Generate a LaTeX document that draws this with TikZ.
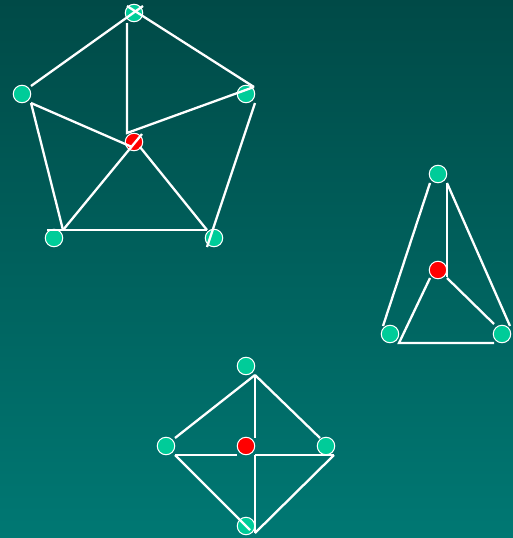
\documentclass[tikz,border=0pt]{standalone}
\definecolor{vgreen}{RGB}{0,204,153}
\definecolor{bgtop}{RGB}{0,74,71}
\definecolor{bgbot}{RGB}{0,120,115}
\begin{document}
\begin{tikzpicture}[x=1pt,y=-1pt,
  vtx/.style={circle,draw=white,line width=1pt,fill=vgreen,minimum size=17.5pt,inner sep=0pt},
  hub/.style={vtx,fill=red},
  edge/.style={draw=white,line width=2.3pt}]
\shade[top color=bgtop,bottom color=bgbot] (0,0) rectangle (513,538);
\useasboundingbox (0,0) rectangle (513,538);
% ---- pentagon wheel ----
\node[vtx] (P1) at (134,13) {};
\node[vtx] (P2) at (246,94) {};
\node[vtx] (P3) at (214,238) {};
\node[vtx] (P4) at (54,238) {};
\node[vtx] (P5) at (22,94) {};
\node[hub] (Pc) at (134,142) {};
\coordinate (pa) at (143,6);
\coordinate (pb) at (127,6);
\coordinate (pl1) at (31,86);
\coordinate (pl2) at (31,103);
\coordinate (pr1) at (254,87);
\coordinate (pr2) at (255,103);
\coordinate (pv1) at (127,23);
\coordinate (pv2) at (127,133);
\coordinate (pcl) at (132,147);
\coordinate (pcu) at (142,134);
\coordinate (pcr) at (140,147);
\coordinate (pbl) at (63,230);
\coordinate (pbl0) at (47,230);
\coordinate (pbr) at (207,230);
\coordinate (pbr2) at (207,247);
\draw[edge] (pa) -- (pl1);
\draw[edge] (pb) -- (pr1);
\draw[edge] (pv1) -- (pv2) -- (pr1);
\draw[edge] (pl2) -- (pcl);
\draw[edge] (pl2) -- (pbl);
\draw[edge] (pbl) -- (pcu);
\draw[edge] (pcr) -- (pbr);
\draw[edge] (pbl0) -- (pbr);
\draw[edge] (pr2) -- (pbr2);
% ---- triangle wheel ----
\node[vtx] (T1) at (438,174) {};
\node[hub] (Tc) at (438,270) {};
\node[vtx] (T2) at (390,334) {};
\node[vtx] (T3) at (502,334) {};
\coordinate (ta) at (430,183);
\coordinate (tb) at (447,183);
\coordinate (tc1) at (447,277);
\coordinate (tc2) at (430,278);
\coordinate (tc3) at (447,278);
\coordinate (tl) at (383,326);
\coordinate (tr) at (510,326);
\coordinate (tbl) at (399,343);
\coordinate (tbr) at (494,343);
\coordinate (tbr2) at (494,324);
\draw[edge] (ta) -- (tl);
\draw[edge] (tb) -- (tc1);
\draw[edge] (tb) -- (tr);
\draw[edge] (tc2) -- (tbl) -- (tbr);
\draw[edge] (tc3) -- (tbr2);
% ---- square wheel ----
\node[vtx] (S1) at (246,366) {};
\node[vtx] (S2) at (326,446) {};
\node[vtx] (S3) at (246,526) {};
\node[vtx] (S4) at (166,446) {};
\node[hub] (Sc) at (246,446) {};
\coordinate (st) at (255,375);
\coordinate (sl1) at (175,438);
\coordinate (sr1) at (320,438);
\coordinate (sv1) at (255,438);
\coordinate (sv2) at (255,455);
\coordinate (sb) at (255,533);
\coordinate (sl2) at (175,455);
\coordinate (sh) at (237,455);
\coordinate (sr2) at (334,455);
\coordinate (sb2) at (250,530);
\draw[edge] (st) -- (sl1);
\draw[edge] (st) -- (sr1);
\draw[edge] (st) -- (sv1);
\draw[edge] (sv2) -- (sb);
\draw[edge] (sl2) -- (sh);
\draw[edge] (sv2) -- (sr2);
\draw[edge] (sl2) -- (sb2);
\draw[edge] (sr2) -- (sb);
\end{tikzpicture}
\end{document}
